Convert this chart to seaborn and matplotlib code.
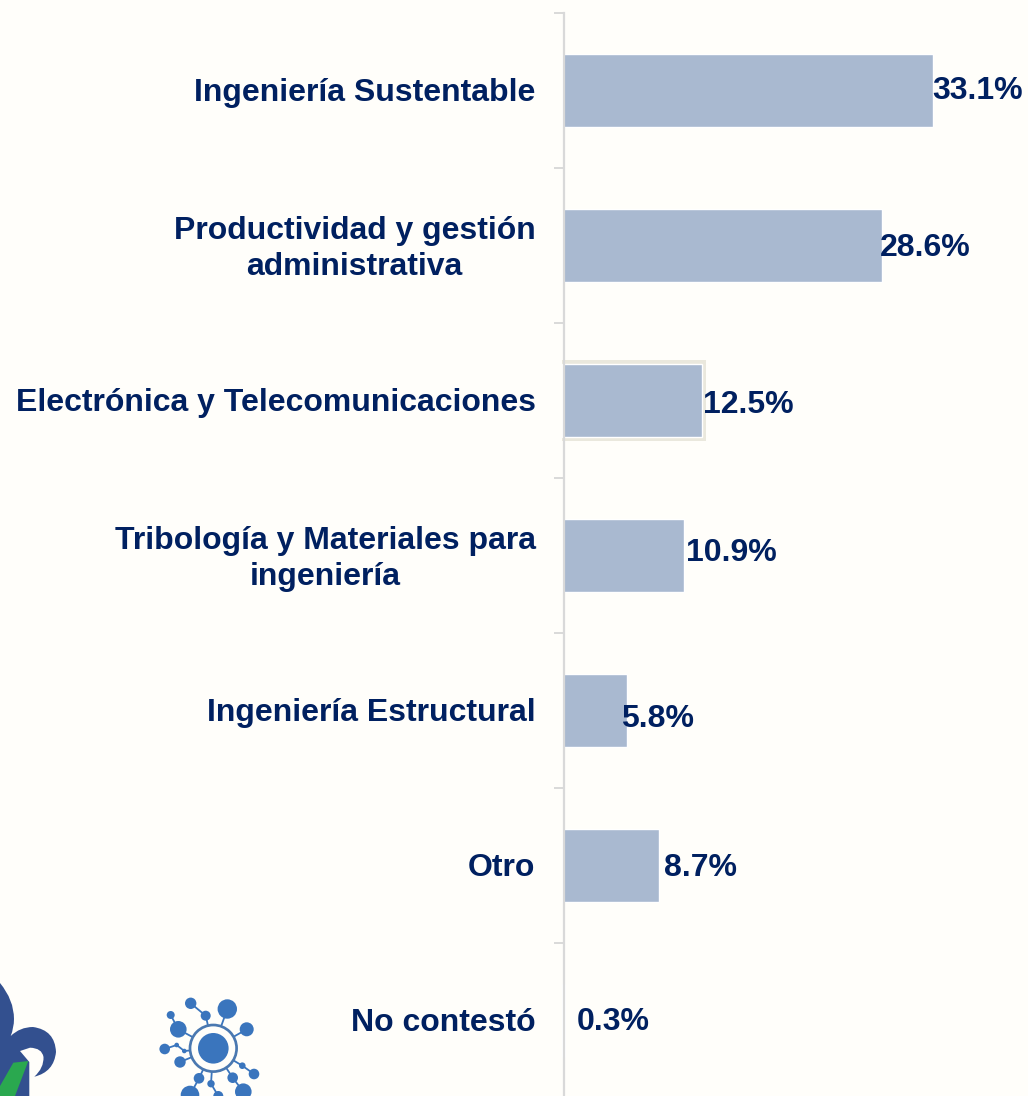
import matplotlib
matplotlib.use("Agg")
import matplotlib.pyplot as plt
from matplotlib.patches import Circle, PathPatch, Polygon, Rectangle
from matplotlib.path import Path
from matplotlib.transforms import ScaledTranslation
import pandas as pd
import seaborn as sns

categorias = [
    "Ingeniería Sustentable",
    "Productividad y gestión\nadministrativa",
    "Electrónica y Telecomunicaciones",
    "Tribología y Materiales para\ningeniería",
    "Ingeniería Estructural",
    "Otro",
    "No contestó",
]
valores = [33.1, 28.6, 12.5, 10.9, 5.8, 8.7, 0.3]

# ajuste manual de las etiquetas (pixeles)
nudge_x = [-1, -3, 1, 2, -6, 5, 12]
nudge_y = [0, 2, 4.5, -3, 8, 2, 1]

FONDO = "#fffefa"
AZUL = "#002060"
BARRA = "#a9b9d0"
GRIS = "#d9d9d9"
W, H = 1028, 1096
px = 0.72  # 1 pixel en puntos a dpi 100
FS = 23

sns.set_theme(style="white")
plt.rcParams["font.family"] = ["Liberation Sans", "DejaVu Sans"]

df = pd.DataFrame({"cat": categorias, "val": valores})

fig = plt.figure(figsize=(W / 100, H / 100), dpi=100, facecolor=FONDO)
left, top, band = 561.5, 13, 155
escala = 11.22
ax = fig.add_axes([left / W, (H - top - 7 * band) / H, (W - left) / W, 7 * band / H])
ax.set_facecolor("none")

sns.barplot(data=df, x="val", y="cat", orient="h", color=BARRA, saturation=1,
            width=0.475, ax=ax)
ax.set_xlim(0, (W - left) / escala)
ax.set_ylim(6.5, -0.5)
ax.set_xlabel("")
ax.set_ylabel("")
ax.xaxis.set_visible(False)

sns.despine(ax=ax, top=True, right=True, bottom=True)
ax.spines["left"].set_position(("data", 2.5 / escala))
ax.spines["left"].set_color(GRIS)
ax.spines["left"].set_linewidth(1.6)

# marcas entre categorias, etiquetas sin marca
ax.set_yticks([i - 0.5 for i in range(8)], minor=True)
ax.tick_params(axis="y", which="minor", length=7, width=1.4, color=GRIS, left=True)
ax.tick_params(axis="y", which="major", length=0, pad=20.5, labelsize=FS, labelcolor=AZUL)
for lab in ax.get_yticklabels():
    lab.set_fontweight("bold")
    lab.set_multialignment("center")
    lab.set_linespacing(1.24)
    # las de dos lineas quedan algo mas bajas
    subir = 3 if "\n" in lab.get_text() else 1
    lab.set_transform(lab.get_transform() + ScaledTranslation(0, subir / 100, fig.dpi_scale_trans))

# barra resaltada
b = ax.patches[2]
ax.add_patch(Rectangle(b.get_xy(), b.get_width(), b.get_height(), fc=BARRA,
                       ec="#eae8dd", lw=8 * px, zorder=0.5))

for i, v in enumerate(valores):
    ax.annotate(f"{v:.1f}%", xy=(v, i), xytext=(nudge_x[i] * px, -nudge_y[i] * px),
                textcoords="offset points", ha="left", va="center",
                fontsize=FS, fontweight="bold", color=AZUL)

# logos, capa en pixeles
lg = fig.add_axes([0, 0, 1, 1], zorder=-1)
lg.set_xlim(0, W)
lg.set_ylim(H, 0)
lg.axis("off")

RED = "#3a75bd"
centro = (213.3, 1048.3)
# x, y, radio, padre (None = centro)
nodos = [(190.7, 1003.3, 5.7, 1), (205.7, 1015.7, 5, None), (227.3, 1009, 9.7, None),
         (170.7, 1015, 4, 4), (178.3, 1029.3, 8.3, None), (246.7, 1029.3, 7, None),
         (164.7, 1049, 5.3, 7), (176.7, 1045, 2.3, 8), (184.3, 1051, 2.3, None),
         (180, 1062, 5.7, None), (242.3, 1065.7, 3.3, None), (254, 1074, 5.3, 10),
         (199, 1078.3, 5.3, None), (232.7, 1077.7, 5.3, None), (211, 1083.7, 3.7, None),
         (190, 1095, 9.3, 12), (218.3, 1096, 5, 14), (243.3, 1091.7, 8.3, 13)]
for x, y, r, padre in nodos:
    destino = centro if padre is None else nodos[padre][:2]
    lg.plot([destino[0], x], [destino[1], y], color=RED, lw=1.3, zorder=1)
    lg.add_patch(Circle((x, y), r, fc=RED, ec="none", zorder=3))
lg.add_patch(Circle(centro, 23.3, fc=FONDO, ec="#4a78b0", lw=2.7 * px, zorder=2))
lg.add_patch(Circle(centro, 15.3, fc=RED, ec="none", zorder=3))

M, L, Q = Path.MOVETO, Path.LINETO, Path.CURVE3
fleur = Path(
    [(0, 983), (14, 1000), (14, 1019), (14, 1028), (10.7, 1036), (20, 1027), (33, 1027),
     (55, 1030), (56, 1052), (54, 1072), (34.3, 1076.7), (44, 1068), (43.5, 1057),
     (42, 1048), (30, 1047.7), (20, 1051), (29.3, 1062), (29.3, 1096), (0, 1096), (0, 983)],
    [M, Q, Q, Q, Q, Q, Q, Q, Q, Q, Q, Q, Q, Q, Q, L, L, L, L, L],
)
lg.add_patch(PathPatch(fleur, fc="#33508f", ec="none"))
lg.add_patch(Polygon([(13.3, 1062.7), (28.3, 1061), (15, 1096), (0, 1096), (0, 1086)],
                     fc="#2aa84f", ec="none", zorder=2))

fig.savefig("out.png", dpi=100, facecolor=FONDO)
